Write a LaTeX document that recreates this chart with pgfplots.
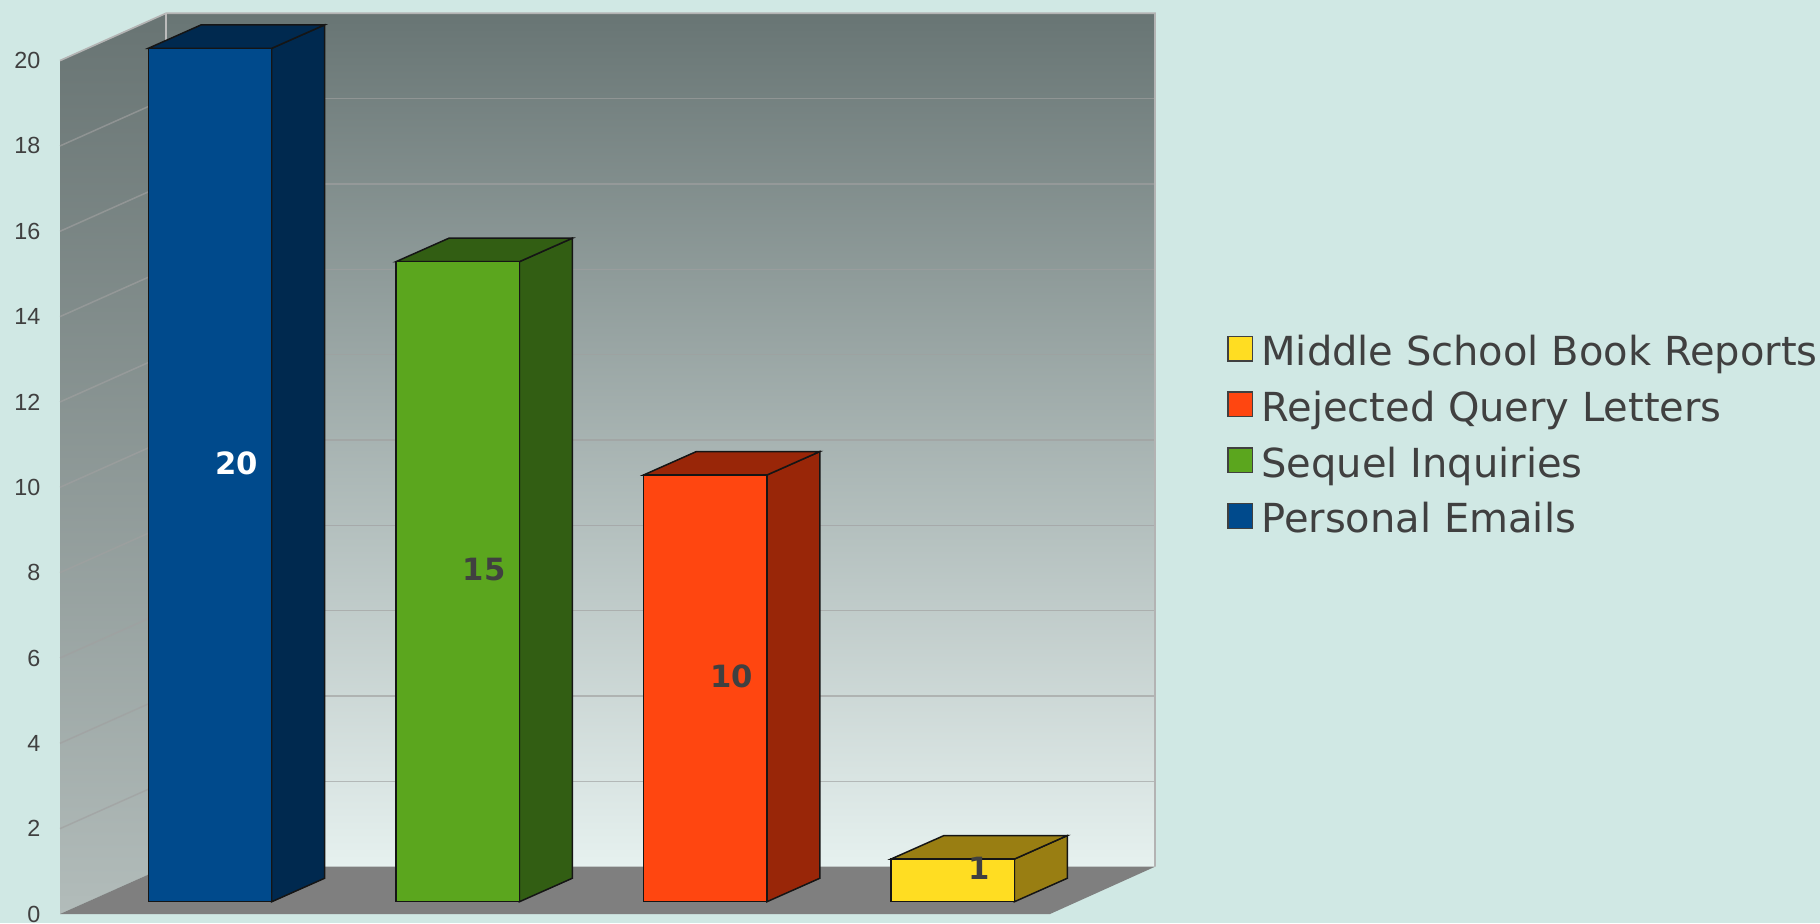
\documentclass[border=0pt]{standalone}
\usepackage{fontspec}
\setmainfont{Liberation Sans}
\newfontfamily\dejavu{DejaVu Sans}
\usepackage{pgfplots}
\pgfplotsset{compat=1.18}
\definecolor{bg}{HTML}{D0E8E4}
\definecolor{wallT}{HTML}{687574}
\definecolor{wallB}{HTML}{E6F1EF}
\definecolor{lwallT}{HTML}{687473}
\definecolor{lwallB}{HTML}{B2BCBA}
\definecolor{floorc}{HTML}{7F7F7F}
\definecolor{gridc}{HTML}{A0A0A0}
\definecolor{txt}{HTML}{404040}
\definecolor{edge}{HTML}{151515}
\definecolor{blueF}{HTML}{004A8C}
\definecolor{blueS}{HTML}{00294F}
\definecolor{greenF}{HTML}{5BA61E}
\definecolor{greenS}{HTML}{325E13}
\definecolor{redF}{HTML}{FF4610}
\definecolor{redS}{HTML}{992608}
\definecolor{yelF}{HTML}{FFDD22}
\definecolor{yelS}{HTML}{997E12}
\begin{document}
\begin{tikzpicture}
\begin{axis}[
  x=0.3pt, y=12.801pt,
  xmin=0, xmax=1820, ymin=-0.2109, ymax=21.4202,
  axis line style={draw=none},
  tick style={draw=none},
  axis background/.style={fill=bg},
  xtick=\empty,
  ytick={0,2,...,20},
  major tick length=0pt,
  /pgf/number format/assume math mode=true,
  yticklabel style={anchor=east, inner sep=0pt, xshift=12.3pt,
    font=\fontsize{7}{8}\selectfont, text=txt},
  clip=false,
  legend cell align=left,
  legend style={at={(axis cs:1226.7,13.57)}, anchor=north west, draw=none, fill=none,
    font=\dejavu\fontsize{12}{14}\selectfont, text=txt,
    inner sep=0pt, row sep=4.93pt, column sep=2.4pt,
    nodes={inner sep=0pt, text height=9pt, text depth=2.8pt}},
  legend image code/.code={\draw[#1,draw=black!75,line width=0.4pt] (0pt,-1.7pt) rectangle (7.4pt,5.7pt);},
]
% walls and floor
\path[top color=wallT, bottom color=wallB] (axis cs:166,1.1085) rectangle (axis cs:1155,21.1085);
\path[top color=lwallT, bottom color=lwallB] (axis cs:60,0) -- (axis cs:166,1.1085) -- (axis cs:166,21.1085) -- (axis cs:60,20) -- cycle;
\fill[floorc] (axis cs:60,0) -- (axis cs:1050,0) -- (axis cs:1155,1.1085) -- (axis cs:166,1.1085) -- cycle;
\pgfplotsinvokeforeach{2,4,...,18}{
  \draw[gridc, opacity=0.65, line width=0.45pt] (axis cs:166,#1+1.1085) -- (axis cs:1155,#1+1.1085);
  \draw[gridc, opacity=0.65, line width=0.45pt] (axis cs:60,#1) -- (axis cs:166,#1+1.1085);
}
\draw[gridc!80!white, line width=0.5pt] (axis cs:60,20) -- (axis cs:166,21.1085) -- (axis cs:1155,21.1085) -- (axis cs:1155,1.1085);
\draw[gridc!70!white, line width=0.4pt] (axis cs:166,1.1085) -- (axis cs:166,21.1085);

% bars: side, top, front
\addplot[forget plot, fill=blueS, draw=edge, line width=0.45pt] coordinates {(271.7,0.288) (324.7,0.839) (324.7,20.839) (271.7,20.288)} -- cycle;
\addplot[forget plot, fill=blueS, draw=edge, line width=0.45pt] coordinates {(148.3,20.288) (271.7,20.288) (324.7,20.839) (201.3,20.839)} -- cycle;
\addplot[forget plot, fill=blueF, draw=edge, line width=0.45pt] coordinates {(148.3,0.288) (271.7,0.288) (271.7,20.288) (148.3,20.288)} -- cycle;

\addplot[forget plot, fill=greenS, draw=edge, line width=0.45pt] coordinates {(519.4,0.288) (572.4,0.839) (572.4,15.839) (519.4,15.288)} -- cycle;
\addplot[forget plot, fill=greenS, draw=edge, line width=0.45pt] coordinates {(396,15.288) (519.4,15.288) (572.4,15.839) (449,15.839)} -- cycle;
\addplot[forget plot, fill=greenF, draw=edge, line width=0.45pt] coordinates {(396,0.288) (519.4,0.288) (519.4,15.288) (396,15.288)} -- cycle;

\addplot[forget plot, fill=redS, draw=edge, line width=0.45pt] coordinates {(766.9,0.288) (819.9,0.839) (819.9,10.839) (766.9,10.288)} -- cycle;
\addplot[forget plot, fill=redS, draw=edge, line width=0.45pt] coordinates {(643.5,10.288) (766.9,10.288) (819.9,10.839) (696.5,10.839)} -- cycle;
\addplot[forget plot, fill=redF, draw=edge, line width=0.45pt] coordinates {(643.5,0.288) (766.9,0.288) (766.9,10.288) (643.5,10.288)} -- cycle;

\addplot[forget plot, fill=yelS, draw=edge, line width=0.45pt] coordinates {(1014.4,0.288) (1067.4,0.839) (1067.4,1.839) (1014.4,1.288)} -- cycle;
\addplot[forget plot, fill=yelS, draw=edge, line width=0.45pt] coordinates {(891,1.288) (1014.4,1.288) (1067.4,1.839) (944,1.839)} -- cycle;
\addplot[forget plot, fill=yelF, draw=edge, line width=0.45pt] coordinates {(891,0.288) (1014.4,0.288) (1014.4,1.288) (891,1.288)} -- cycle;

% value labels
\addplot[forget plot, draw=none, mark=none, point meta=explicit, nodes near coords,
  nodes near coords align=center,
  every node near coord/.append style={font=\dejavu\bfseries\fontsize{9.2}{10}\selectfont, text=white}]
  coordinates {(236.5,10.564) [20]};
\addplot[forget plot, draw=none, mark=none, point meta=explicit, nodes near coords,
  nodes near coords align=center,
  every node near coord/.append style={font=\dejavu\bfseries\fontsize{9.2}{10}\selectfont, text=txt}]
  coordinates {(484.2,8.064) [15] (731.7,5.564) [10] (979.2,1.064) [1]};

% legend
\addlegendimage{fill=yelF}
\addlegendentry{Middle School Book Reports}
\addlegendimage{fill=redF}
\addlegendentry{Rejected Query Letters}
\addlegendimage{fill=greenF}
\addlegendentry{Sequel Inquiries}
\addlegendimage{fill=blueF}
\addlegendentry{Personal Emails}
\end{axis}
\end{tikzpicture}
\end{document}
